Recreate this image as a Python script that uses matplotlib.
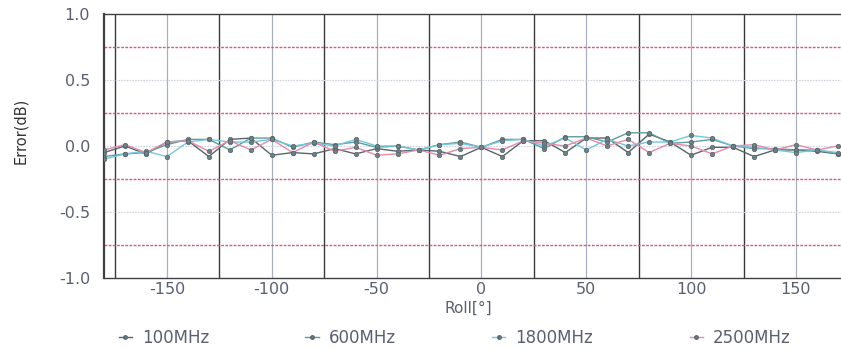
import numpy as np
import matplotlib.pyplot as plt
from matplotlib.lines import Line2D

plt.rcParams['axes.unicode_minus'] = False

# roll angle [deg] and measured error [dB] per frequency
roll = list(range(-180, 180, 10))

err_100 = [-0.05, 0.00, -0.06, 0.03, 0.04, -0.08, 0.05, 0.06, -0.07, -0.05,
           -0.06, -0.02, -0.06, -0.02, -0.04, -0.03, -0.04, -0.08, -0.01, -0.08,
           0.04, 0.04, -0.05, 0.06, 0.06, -0.05, 0.09, 0.03, -0.07, -0.01,
           -0.01, -0.08, -0.03, -0.03, -0.04, -0.06]
err_600 = [-0.08, -0.06, -0.05, 0.01, 0.05, 0.05, -0.03, 0.06, 0.06, -0.01,
           0.03, 0.01, 0.03, -0.01, 0.00, -0.03, 0.01, 0.03, -0.01, 0.05,
           0.05, -0.02, 0.07, 0.07, 0.03, 0.10, 0.10, 0.02, 0.03, 0.05,
           0.00, -0.02, -0.02, -0.03, -0.03, -0.06]
err_1800 = [-0.10, -0.06, -0.04, -0.08, 0.03, 0.05, 0.03, 0.03, 0.05, 0.00,
            0.02, 0.00, 0.05, 0.00, 0.00, -0.03, 0.01, 0.02, -0.01, 0.04,
            0.05, 0.00, 0.06, -0.03, 0.05, 0.00, 0.03, 0.03, 0.08, 0.06,
            0.00, -0.01, -0.03, -0.05, -0.03, -0.05]
err_2500 = [-0.03, 0.01, -0.05, 0.03, 0.04, -0.04, 0.04, -0.03, 0.05, -0.05,
            0.03, -0.04, -0.01, -0.07, -0.06, -0.03, -0.07, -0.02, -0.01, -0.03,
            0.04, 0.02, 0.00, 0.06, 0.00, 0.05, -0.05, 0.02, 0.00, -0.06,
            0.00, 0.01, -0.03, 0.01, -0.03, 0.00]

labels = ['100MHz', '600MHz', '1800MHz', '2500MHz']
colors = ['#56666c', '#5f9c9c', '#74c6dc', '#e48aaa']

txt = '#5a6070'

fig = plt.figure(figsize=(8.41, 3.49), dpi=100)
ax = fig.add_axes([0.1237, 0.2034, 0.8763, 0.7566])

# grid lines
for x in range(-150, 151, 50):
    ax.axvline(x, color='#a8b0bc', lw=0.9, zorder=1)
for x in range(-175, 171, 50):
    ax.axvline(x, color='#3a3a3a', lw=1.0, zorder=1)
for y in [-0.75, -0.25, 0.25, 0.75]:
    ax.axhline(y, color='#e8507e', lw=1.0, ls=(0, (2, 1)), zorder=2)
for y in [-0.5, 0.0, 0.5]:
    ax.axhline(y, color='#d0d4dc', lw=0.8, ls=(0, (1.5, 1)), zorder=1)

for vals, c in zip([err_100, err_600, err_1800, err_2500], colors):
    ax.plot(roll, vals, color=c, lw=1.0, zorder=3)
    ax.plot(roll, vals, ls='none', marker='o', ms=3.2,
            mfc='#6f7f84', mec='#56666c', mew=0.5, zorder=4)

ax.set_xlim(-180, 171.5)
ax.set_ylim(-1.0, 1.0)
ax.set_xticks([-150, -100, -50, 0, 50, 100, 150])
ax.set_yticks([-1.0, -0.5, 0.0, 0.5, 1.0])
ax.set_yticklabels(['-1.0', '-0.5', '0.0', '0.5', '1.0'])
ax.tick_params(length=0, labelsize=11.5, colors=txt, pad=10)
ax.tick_params(axis='x', pad=3)

for s in ['top', 'bottom']:
    ax.spines[s].set_color('#404040')
    ax.spines[s].set_linewidth(1.0)
ax.spines['left'].set_color('#404040')
ax.spines['left'].set_linewidth(1.6)
ax.spines['right'].set_visible(False)

ax.set_xlabel('Roll[°]', fontsize=11, color=txt)
ax.xaxis.set_label_coords(0.494, -0.085)
fig.text(0.025, 0.625, 'Error(dB)', rotation=90, fontsize=10.5,
         family='Liberation Sans Narrow', color='#333333', va='center', ha='center')

handles = [Line2D([], [], color=c, marker='o', ms=2.5, mfc='#6f7f84',
                  mec='#56666c', lw=1.0) for c in colors]
fig.legend(handles, labels, loc='lower left', mode='expand',
           bbox_to_anchor=(0.133, -0.012, 0.815, 0.07), ncol=4, frameon=False,
           fontsize=12, labelcolor=txt, handlelength=0.8, handletextpad=0.6,
           borderaxespad=0.0)

fig.savefig('out.png', dpi=100, facecolor='white')
